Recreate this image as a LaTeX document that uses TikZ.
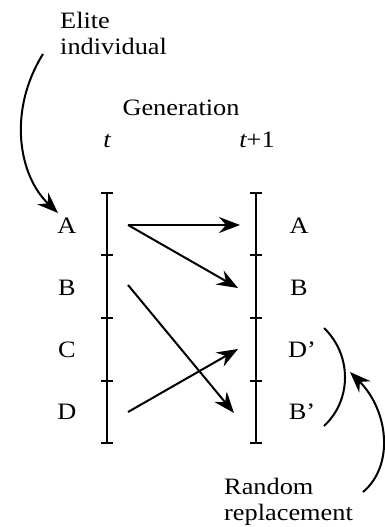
\documentclass[tikz,border=0pt]{standalone}
\usepackage{fontspec}
\setmainfont[FakeStretch=1.12]{Liberation Serif}
\usetikzlibrary{arrows.meta}
\begin{document}
\begin{tikzpicture}[x=1pt,y=-1pt,
  lbl/.style={anchor=base,inner sep=0pt,font=\fontsize{23.5}{26}\selectfont},
  bar/.style={line width=2.6pt},
  tick/.style={line width=2.4pt},
  arr/.style={line width=2pt,-{Stealth[length=21pt,width=16pt,inset=7pt]}}]
\useasboundingbox (0,0) rectangle (384,527);
% bars
\foreach \x/\n in {107/L,256/R}{
  \draw[bar] (\x,193) -- (\x,443);
  \foreach \y in {193,255,318,381,443}{
    \draw[tick] (\x-6,\y) -- (\x+6,\y);
  }
}
% labels
\node[lbl,align=left,anchor=base west] (elite) at (60,55) {Elite\\individual};
\node[lbl] (gen) at (181,115) {Generation};
\node[lbl] (t) at (107,147) {\itshape t};
\node[lbl] (t1) at (257,147) {\itshape t\upshape +1};
\node[lbl] (LA) at (67,233) {A};
\node[lbl] (LB) at (67,295) {B};
\node[lbl] (LC) at (67,357) {C};
\node[lbl] (LD) at (67,419) {D};
\node[lbl] (RA) at (299,233) {A};
\node[lbl] (RB) at (299,295) {B};
\node[lbl] (RD) at (302,357) {D’};
\node[lbl] (RBp) at (302,419) {B’};
\node[lbl,align=left,anchor=base west] (rand) at (224,520) {Random\\replacement};
% connector ends
\coordinate (sA) at (128,225);
\coordinate (sB) at (128,285);
\coordinate (sD) at (128,412);
\coordinate (eA) at (240,225);
\coordinate (eB) at (238,288);
\coordinate (eD) at (238,349);
\coordinate (eBp) at (234,413);
\draw[arr] (sA) -- (eA);
\draw[arr] (sA) -- (eB);
\draw[arr] (sB) -- (eBp);
\draw[arr] (sD) -- (eD);
% elite arrow
\coordinate (es) at (43,54);
\coordinate (ee) at (58,213);
\draw[arr] (es) .. controls (8,110) and (18,175) .. (ee);
% bracket
\coordinate (b1) at (324,328);
\coordinate (b2) at (324,426);
\draw[line width=2pt] (b1) .. controls (352,355) and (352,400) .. (b2);
% random arrow
\coordinate (rs) at (363,492);
\coordinate (re) at (350,372);
\draw[arr] (rs) .. controls (395,465) and (388,410) .. (re);
\end{tikzpicture}
\end{document}
